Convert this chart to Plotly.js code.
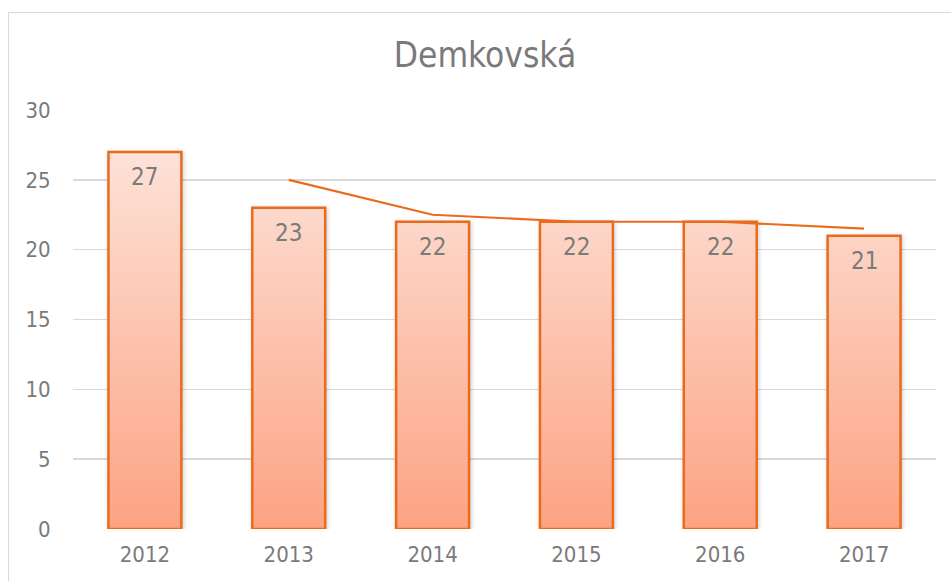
<!DOCTYPE html>
<html><head><meta charset="utf-8">
<script src="https://cdn.plot.ly/plotly-3.0.1.min.js"></script>
<style>
html,body{margin:0;padding:0;background:#fff;}
#wrap{position:relative;width:951px;height:581px;}
#frame{position:absolute;left:8px;top:12px;width:945px;height:575px;border:1.5px solid #d9d9d9;box-sizing:border-box;pointer-events:none;}
#chart{position:absolute;left:0;top:0;width:951px;height:581px;}
</style></head>
<body>
<div id="wrap"><div id="chart"></div><div id="frame"></div></div>
<script>
const years = ['2012','2013','2014','2015','2016','2017'];
const values = [27, 23, 22, 22, 22, 21];
const trendYears = ['2013','2014','2015','2016','2017'];
const trendValues = [25, 22.5, 22, 22, 21.5];
const yTicks = [0, 5, 10, 15, 20, 25, 30];

const fontFam = '"DejaVu Sans Condensed", "DejaVu Sans", sans-serif';
const gray = '#7a7a7a';
function f(size){ return {family:fontFam, size:size, color:gray, stretch:'condensed'}; }

const data = [
  {type:'bar', x:years, y:values,
   marker:{color:'#fdb89c', line:{color:'#EA6B1C', width:2.5}},
   width:0.507, hoverinfo:'none'},
  {type:'scatter', mode:'lines', x:trendYears, y:trendValues,
   line:{color:'#EA6B1C', width:2.2}, hoverinfo:'none'}
];
const annotations = years.map(function(yr, i){
  return {xref:'x', yref:'y', x:i, y:values[i], text:String(values[i]), showarrow:false,
          yanchor:'middle', yshift:-25, font:f(24)};
});
const layout = {
  width:951, height:581,
  margin:{l:73, r:15, t:110, b:52},
  paper_bgcolor:'rgba(0,0,0,0)', plot_bgcolor:'rgba(0,0,0,0)',
  showlegend:false,
  title:{text:'Demkovská', x:0.51, xanchor:'center', y:0.905, yanchor:'middle', font:f(35)},
  xaxis:{type:'category', range:[-0.5, years.length-0.5], autorange:false,
         showgrid:false, zeroline:false, showline:false,
         ticks:'outside', ticklen:6, tickcolor:'rgba(0,0,0,0)', tickfont:f(22)},
  yaxis:{range:[0,30], autorange:false, tickvals:yTicks, showgrid:true, gridcolor:'#d9d9d9', gridwidth:1.5,
         zeroline:false, showline:false, ticks:'outside', ticklen:17, tickcolor:'rgba(0,0,0,0)',
         tickfont:f(22)},
  annotations:annotations
};
Plotly.newPlot('chart', data, layout, {staticPlot:true}).then(function(gd){
  const svg = gd.querySelector('svg.main-svg');
  const ns = 'http://www.w3.org/2000/svg';
  let defs = svg.querySelector('defs');
  const lg = document.createElementNS(ns,'linearGradient');
  lg.setAttribute('id','barGrad');
  lg.setAttribute('gradientUnits','userSpaceOnUse');
  const ya = gd._fullLayout.yaxis;
  lg.setAttribute('x1','0'); lg.setAttribute('x2','0');
  lg.setAttribute('y1', String(ya.l2p(27)));
  lg.setAttribute('y2', String(ya.l2p(0)));
  [['0','#fde2d8'],['1','#fca383']].forEach(function(s){
    const st = document.createElementNS(ns,'stop');
    st.setAttribute('offset',s[0]); st.setAttribute('stop-color',s[1]);
    lg.appendChild(st);
  });
  defs.appendChild(lg);
  gd.querySelectorAll('.barlayer .point path').forEach(function(p){
    p.style.fill = 'url(#barGrad)';
    p.style.filter = 'drop-shadow(1px 1px 2px rgba(0,0,0,0.2))';
  });
});
</script>
</body></html>
